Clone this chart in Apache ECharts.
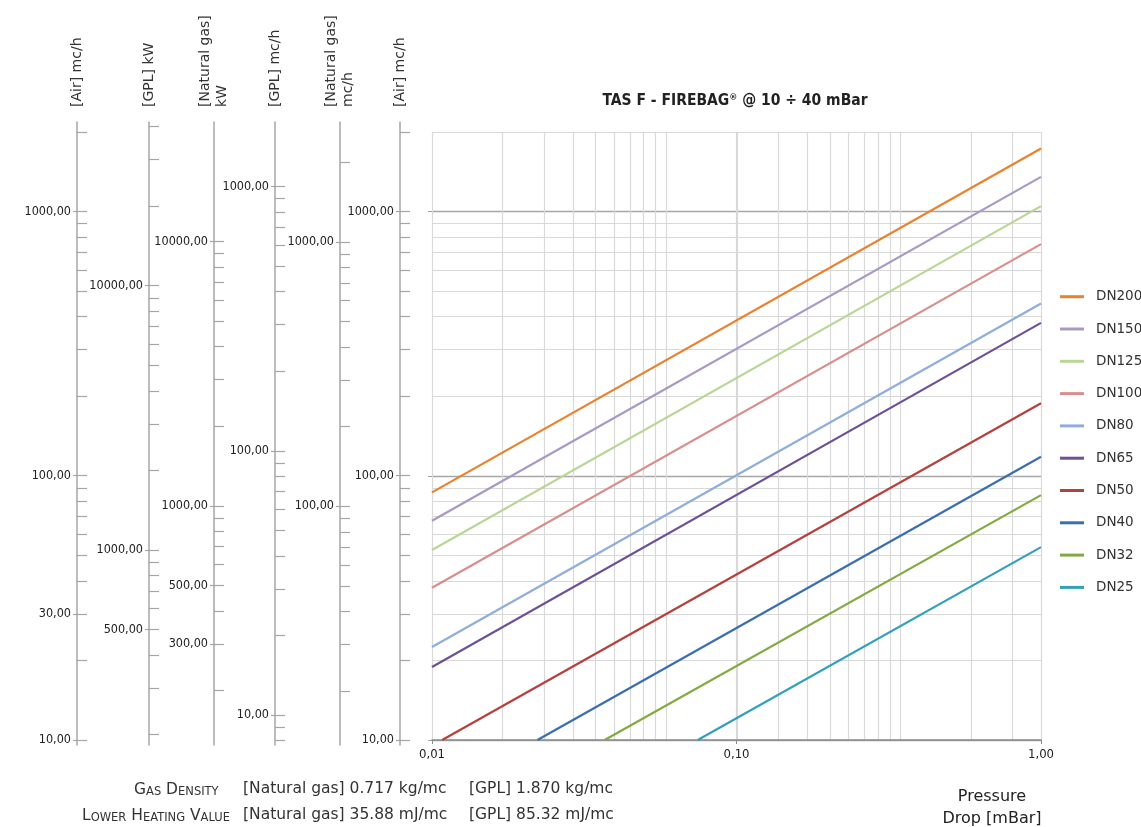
<!DOCTYPE html>
<html>
<head>
<meta charset="utf-8">
<title>TAS F - FIREBAG</title>
<script src="https://cdn.jsdelivr.net/npm/echarts@6/dist/echarts.min.js"></script>
<style>
  html, body { margin: 0; padding: 0; background: #fff; }
  #chart { width: 1141px; height: 827px; }
</style>
</head>
<body>
<div id="chart"></div>
<script>
// DN curves: straight segments on the log-log plot (pressure drop mBar -> air flow mc/h)
const dnNames = ['DN200', 'DN150', 'DN125', 'DN100', 'DN80', 'DN65', 'DN50', 'DN40', 'DN32', 'DN25']
const dropFrom = [0.01, 0.01, 0.01, 0.01, 0.01, 0.01, 0.0108, 0.0222, 0.0369, 0.0746]
const flowFrom = [86.5, 67.6, 52.4, 37.7, 22.5, 18.9, 10, 10, 10, 10]
const dropTo = [1, 1, 1, 1, 1, 1, 1, 1, 1, 1]
const flowTo = [1733, 1353, 1048, 753, 449, 379, 188, 118, 84.5, 53.7]
const dnColors = ['#E8822F', '#A898C4', '#B9D696', '#D68F8C', '#8FAEDA', '#6E5096', '#B4413E', '#3C6EAF', '#82AA41', '#32A0B9']

// main plot axes
const dropRange = [0.01, 1]
const dropLabels = [0.01, 0.1, 1]
const flowRange = [10, 2000]
const flowMajor = [10, 100, 1000]
const flowMinor = [10, 20, 30, 40, 50, 60, 70, 80, 90, 100, 200, 300, 400, 500, 600, 700, 800, 900, 1000, 2000]
// the vertical minor grid of the original follows its own log scale
const helperRange = [1, 398]
const helperLines = [2, 3, 4, 5, 6, 7, 8, 9, 10, 20, 30, 40, 50, 60, 70, 80, 90, 100, 200, 300]

// side conversion scales (value = air mc/h * factor)
const sideExtent = [9.57, 2179]
const scaleNames = ['[Air] mc/h', '[GPL] kW', '[Natural gas]\nkW', '[GPL] mc/h', '[Natural gas]\nmc/h', '[Air] mc/h']
const scaleFactors = [1, 19.1, 13.0, 0.805, 1.305, 1]
const scaleTickRange = [[10, 2000], [200, 40000], [200, 10000], [8, 1000], [20, 2000], [10, 2000]]
const scaleLabels = [[10, 30, 100, 1000], [500, 1000, 10000], [300, 500, 1000, 10000], [10, 100, 1000], [100, 1000], [10, 100, 1000]]

const axisX = [77, 149, 214, 275, 340, 400]
const narrow = "'DejaVu Sans Condensed', sans-serif"
const din = "'DejaVu Sans', sans-serif"

function fmt(v) {
  return (+v).toFixed(2).replace('.', ',')
}

function logTicks(lo, hi) {
  const out = []
  for (let p = -3; p <= 6; p++) {
    for (let m = 1; m <= 9; m++) {
      const v = +(m * Math.pow(10, p)).toPrecision(6)
      if (v >= lo && v <= hi) out.push(v)
    }
  }
  return out
}

const grids = [{ left: 432, top: 132, width: 609, height: 608, outerBoundsMode: 'none' }]
const xAxes = [
  {
    type: 'log', gridIndex: 0, min: dropRange[0], max: dropRange[1], position: 'bottom',
    axisLine: { show: true, lineStyle: { color: '#8c8c8c', width: 1.5 }},
    axisTick: { show: true, length: 4, customValues: dropLabels, lineStyle: { color: '#8c8c8c' }},
    axisLabel: { customValues: dropLabels, formatter: fmt, margin: 8, fontFamily: narrow, fontSize: 13, color: '#222' },
    splitLine: { show: true, lineStyle: { color: '#d9d9d9', width: 1.2 }}
  },
  {
    type: 'log', gridIndex: 0, min: helperRange[0], max: helperRange[1], position: 'bottom',
    axisLine: { show: false },
    axisTick: { show: false, customValues: helperLines },
    axisLabel: { show: false },
    splitLine: { show: true, lineStyle: { color: '#d9d9d9', width: 1.2 }}
  }
]
const yAxes = [
  {
    type: 'log', gridIndex: 0, min: flowRange[0], max: flowRange[1], position: 'left',
    axisLine: { show: false },
    axisTick: { show: false, customValues: flowMinor },
    axisLabel: { show: false },
    splitLine: { show: true, lineStyle: { color: '#d9d9d9', width: 1.2 }}
  },
  {
    type: 'log', gridIndex: 0, min: flowRange[0], max: flowRange[1], position: 'left',
    axisLine: { show: false },
    axisTick: { show: true, length: 4, customValues: flowMajor, lineStyle: { color: '#a0a0a0' }},
    axisLabel: { show: false },
    splitLine: { show: true, lineStyle: { color: '#a6a6a6', width: 1.3 }}
  }
]

scaleNames.forEach((name, i) => {
  const f = scaleFactors[i]
  const g = i + 1
  grids.push({ left: axisX[i], top: 122, width: 10, height: 623, outerBoundsMode: 'none' })
  xAxes.push({ type: 'value', gridIndex: g, show: false })
  yAxes.push({
    type: 'log', gridIndex: g, min: sideExtent[0] * f, max: sideExtent[1] * f, position: 'left',
    name: name, nameLocation: 'end', nameGap: 15, nameRotate: 90, nameMoveOverlap: false,
    nameTextStyle: { fontFamily: din, fontSize: 14, color: '#333', lineHeight: 17 },
    axisLine: { show: true, lineStyle: { color: '#a6a6a6', width: 1.5 }},
    axisTick: { show: true, inside: true, length: 10, customValues: logTicks(scaleTickRange[i][0], scaleTickRange[i][1]), lineStyle: { color: '#a6a6a6', width: 1.2 }},
    axisLabel: { show: false },
    splitLine: { show: false }
  })
  yAxes.push({
    type: 'log', gridIndex: g, min: sideExtent[0] * f, max: sideExtent[1] * f, position: 'left',
    axisLine: { show: false },
    axisTick: { show: true, length: 4, customValues: scaleLabels[i], lineStyle: { color: '#a6a6a6', width: 1.2 }},
    axisLabel: { customValues: scaleLabels[i], formatter: fmt, margin: 6, fontFamily: narrow, fontSize: 12.5, color: '#222' },
    splitLine: { show: false }
  })
})

const series = dnNames.map((name, i) => ({
  name: name,
  type: 'line',
  xAxisIndex: 0,
  yAxisIndex: 0,
  symbol: 'none',
  clip: true,
  z: 3,
  lineStyle: { width: 2.2, color: dnColors[i] },
  itemStyle: { color: dnColors[i] },
  data: [[dropFrom[i], flowFrom[i]], [dropTo[i], flowTo[i]]]
}))

const chart = echarts.init(document.getElementById('chart'))
chart.setOption({
  animation: false,
  backgroundColor: '#fff',
  grid: grids,
  xAxis: xAxes,
  yAxis: yAxes,
  legend: {
    orient: 'vertical',
    left: 1055,
    top: 283.7,
    icon: 'rect',
    itemWidth: 24,
    itemHeight: 3,
    itemGap: 16.3,
    data: dnNames,
    textStyle: { fontFamily: din, fontSize: 13.5, color: '#333', lineHeight: 16, padding: [0, 0, 0, 7] }
  },
  graphic: [
    {
      type: 'text', x: 735, y: 101,
      style: {
        text: 'TAS F - FIREBAG{sup|®} @ 10 ÷ 40 mBar',
        rich: { sup: { fontSize: 9, fontWeight: 'bold', verticalAlign: 'top', fontFamily: narrow, fill: '#222' }},
        fontFamily: narrow, fontWeight: 'bold', fontSize: 15.5, fill: '#222', align: 'center', verticalAlign: 'middle'
      }
    },
    {
      type: 'text', x: 992, y: 786,
      style: {
        text: 'Pressure\nDrop [mBar]',
        fontFamily: din, fontSize: 16, lineHeight: 22, fill: '#222', align: 'center', verticalAlign: 'top'
      }
    },
    {
      type: 'text', x: 134, y: 789,
      style: {
        text: '{a|G}{b|AS} {a|D}{b|ENSITY}',
        rich: {
          a: { fontFamily: din, fontSize: 15.5, fill: '#333', verticalAlign: 'bottom', lineHeight: 18 },
          b: { fontFamily: din, fontSize: 11.5, fill: '#333', verticalAlign: 'bottom', lineHeight: 18 }
        },
        fontFamily: din, fontSize: 15.5, fill: '#333', align: 'left', verticalAlign: 'middle'
      }
    },
    {
      type: 'text', x: 82, y: 815,
      style: {
        text: '{a|L}{b|OWER} {a|H}{b|EATING} {a|V}{b|ALUE}',
        rich: {
          a: { fontFamily: din, fontSize: 15.5, fill: '#333', verticalAlign: 'bottom', lineHeight: 18 },
          b: { fontFamily: din, fontSize: 11.5, fill: '#333', verticalAlign: 'bottom', lineHeight: 18 }
        },
        fontFamily: din, fontSize: 15.5, fill: '#333', align: 'left', verticalAlign: 'middle'
      }
    },
    { type: 'text', x: 243, y: 789, style: { text: '[Natural gas] 0.717 kg/mc', fontFamily: din, fontSize: 15.5, fill: '#333', verticalAlign: 'middle' }},
    { type: 'text', x: 469, y: 789, style: { text: '[GPL] 1.870 kg/mc', fontFamily: din, fontSize: 15.5, fill: '#333', verticalAlign: 'middle' }},
    { type: 'text', x: 243, y: 815, style: { text: '[Natural gas] 35.88 mJ/mc', fontFamily: din, fontSize: 15.5, fill: '#333', verticalAlign: 'middle' }},
    { type: 'text', x: 469, y: 815, style: { text: '[GPL] 85.32 mJ/mc', fontFamily: din, fontSize: 15.5, fill: '#333', verticalAlign: 'middle' }}
  ],
  series: series
})
</script>
</body>
</html>
